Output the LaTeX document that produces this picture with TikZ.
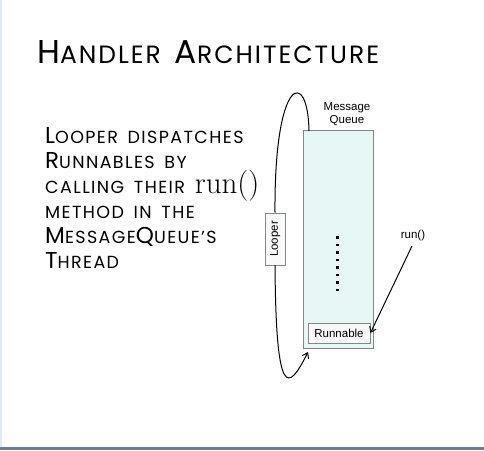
\documentclass[tikz,border=0pt]{standalone}
\usepackage{fontspec}
\usetikzlibrary{arrows.meta}
\newfontfamily\handfont[LetterSpace=8, WordSpace=1.6]{Poppins}
\newfontfamily\diagfont{Liberation Sans}
\newfontfamily\codefont{Latin Modern Roman}
\definecolor{queuefill}{RGB}{230,247,246}
\definecolor{boxline}{RGB}{130,135,135}
\definecolor{barblue}{RGB}{104,126,156}
\definecolor{edgeblue}{RGB}{225,232,245}
% fake small caps in the hand font
\newcommand{\tcap}{\handfont\fontsize{33}{33}\selectfont}
\newcommand{\tsc}{\handfont\fontsize{25}{25}\selectfont}
\newcommand{\bcap}{\handfont\fontsize{23}{23}\selectfont}
\newcommand{\bsc}{\handfont\fontsize{17.5}{17.5}\selectfont}
\tikzset{
    bodyline/.style={anchor=base west, inner sep=0pt},
    diaglabel/.style={font=\diagfont\fontsize{11.5}{13}\selectfont, align=center, inner sep=0pt},
    smallbox/.style={draw=boxline, fill=white!95!gray, line width=0.8pt, inner sep=0pt,
        font=\diagfont\fontsize{11.5}{13}\selectfont},
    flow/.style={line width=1pt, -{Straight Barb[length=5pt,width=7pt]}}
}

\begin{document}
\begin{tikzpicture}[x=1pt, y=-1pt]
    % page
    \fill[white] (0,0) rectangle (484,450);
    \fill[edgeblue] (0,0) rectangle (1.5,447);
    \fill[barblue] (0,447) rectangle (484,450);

    % title
    \node[bodyline] (title) at (37,63) {{\tcap H}{\tsc ANDLER }{\tcap A}{\tsc RCHITECTURE}};

    % text
    \node[bodyline] (l1) at (45,143) {{\bcap L}{\bsc OOPER DISPATCHES}};
    \node[bodyline] (l2) at (45,168) {{\bcap R}{\bsc UNNABLES BY}};
    \node[bodyline] (l3) at (45,193) {{\bsc CALLING THEIR }{\codefont\fontsize{31}{31}\selectfont run()}};
    \node[bodyline] (l4) at (45,218) {{\bsc METHOD IN THE}};
    \node[bodyline] (l5) at (45,243) {{\bcap M}{\bsc ESSAGE}{\bcap Q}{\bsc UEUE’S}};
    \node[bodyline] (l6) at (45,268) {{\bcap T}{\bsc HREAD}};

    % message queue
    \node[draw=boxline, fill=queuefill, line width=1pt, minimum width=70pt, minimum height=218pt,
        inner sep=0pt] (queue) at (338,239) {};
    \node[diaglabel] (qlabel) at (347,114) {Message\\Queue};
    \node[smallbox, minimum width=62pt, minimum height=20pt] (runnable) at (339,333) {Runnable};
    \foreach \i in {0,...,7}
        \fill (336,236+7.5*\i) rectangle ++(2.6,2.6);

    % looper loop
    \node[smallbox, minimum width=20pt, minimum height=52pt] (looper) at (275,239)
        {\rotatebox{90}{Looper}};
    \coordinate (lt) at (309,131);
    \coordinate (lb) at (308,352);
    \draw[line width=1pt] (looper.north) .. controls (274,75) and (308,68) .. (lt);
    \draw[flow] (looper.south) .. controls (276,400) and (288,392) .. (lb);

    % run() call
    \node[diaglabel] (runlabel) at (413,236) {run()};
    \coordinate (rs) at (412,246);
    \draw[flow] (rs) -- (runnable.east);
\end{tikzpicture}
\end{document}
